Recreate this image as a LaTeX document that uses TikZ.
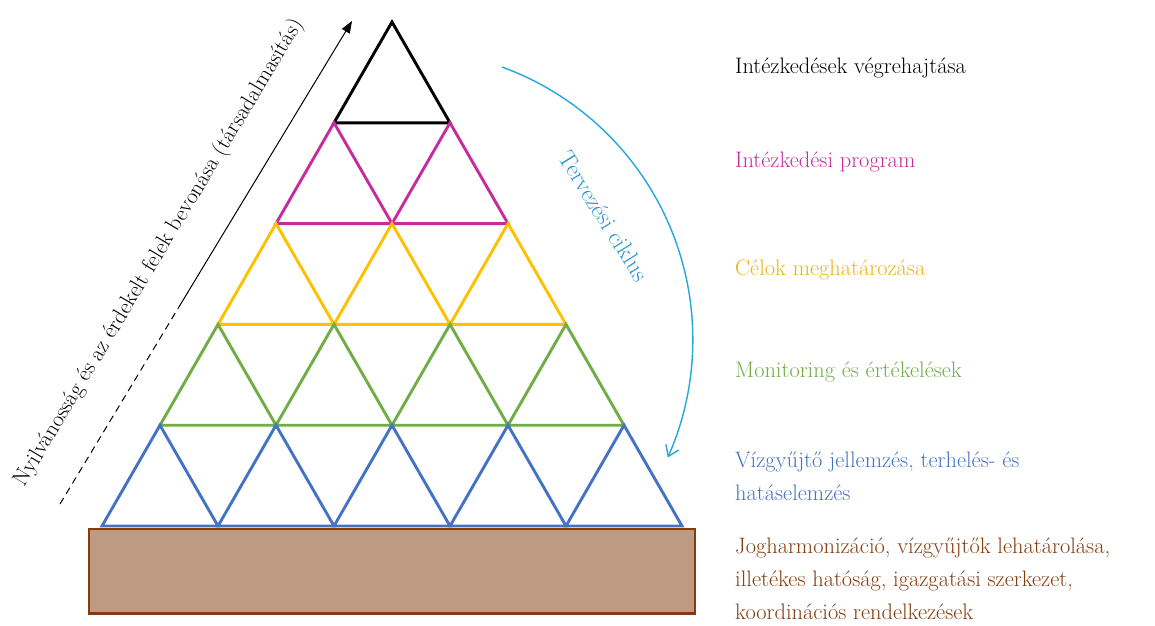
\documentclass[tikz,border=0pt]{standalone}
\usepackage{fontspec}
\usetikzlibrary{arrows.meta}
\definecolor{cmag}{RGB}{199,44,156}
\definecolor{cyel}{RGB}{255,192,0}
\definecolor{cyelt}{RGB}{232,180,20}
\definecolor{cgreen}{RGB}{112,173,71}
\definecolor{cblue}{RGB}{68,114,196}
\definecolor{cbrown}{RGB}{132,60,12}
\definecolor{cfill}{RGB}{191,154,130}
\definecolor{ccyan}{RGB}{35,168,216}
\definecolor{ccyant}{RGB}{38,150,205}
\begin{document}
\begin{tikzpicture}[x=1pt,y=-1pt,
  tri/.style={line width=2.9pt, line join=miter},
  lbl/.style={anchor=base west, inner sep=0pt, font=\fontsize{22.4}{33}\selectfont, align=left},
  rlbl/.style={inner sep=0pt, font=\fontsize{22.4}{26}\selectfont},
]
\useasboundingbox (0,0) rectangle (1155,625);
\draw[line width=2.8pt, draw=cbrown, fill=cfill] (89,529) rectangle (695,613.5);
\foreach \k/\c in {1/black,2/cmag,3/cyel,4/cgreen,5/cblue} {
  \pgfmathsetmacro\yt{22+(\k-1)*100.8}
  \pgfmathsetmacro\yb{22+\k*100.8}
  \foreach \i in {1,...,\k} {
    \pgfmathsetmacro\ax{392-(\k-1)*58+(\i-1)*116}
    \draw[tri, draw=\c] (\ax,\yt) -- (\ax+58,\yb) -- (\ax-58,\yb) -- cycle;
  }
}
\node[lbl] (l1) at (735,73) {Intézkedések végrehajtása};
\node[lbl, text=cmag] (l2) at (735,167) {Intézkedési program};
\node[lbl, text=cyelt] (l3) at (735,275) {Célok meghatározása};
\node[lbl, text=cgreen] (l4) at (735,377) {Monitoring és értékelések};
\node[lbl, text=cblue] (l5) at (735,500) {Vízgyűjtő jellemzés, terhelés- és\\hatáselemzés};
\node[lbl, text=cbrown] (l6) at (735,619) {Jogharmonizáció, vízgyűjtők lehatárolása,\\illetékes hatóság, igazgatási szerkezet,\\koordinációs rendelkezések};
\coordinate (a0) at (60,504);
\coordinate (a1) at (179.5,306);
\coordinate (a2) at (352,21);
\draw[line width=1pt, dash pattern=on 7pt off 5pt] (a0) -- (a1);
\draw[line width=1pt, -{Triangle[length=12pt,width=9pt]}] (a1) -- (a2);
\node[rlbl, rotate=59, anchor=base] (pub) at (164,256) {Nyilvánosság és az érdekelt felek bevonása (társadalmasítás)};
\coordinate (c0) at (502,67);
\draw[ccyan, line width=1.4pt, -{Straight Barb[length=10pt,width=14pt]}] (c0) arc[start angle=-70, end angle=24, radius=290];
\node[rlbl, text=ccyant, rotate=-58, font=\fontsize{24}{28}\selectfont] (cyc) at (604,216) {Tervezési ciklus};
\end{tikzpicture}
\end{document}
